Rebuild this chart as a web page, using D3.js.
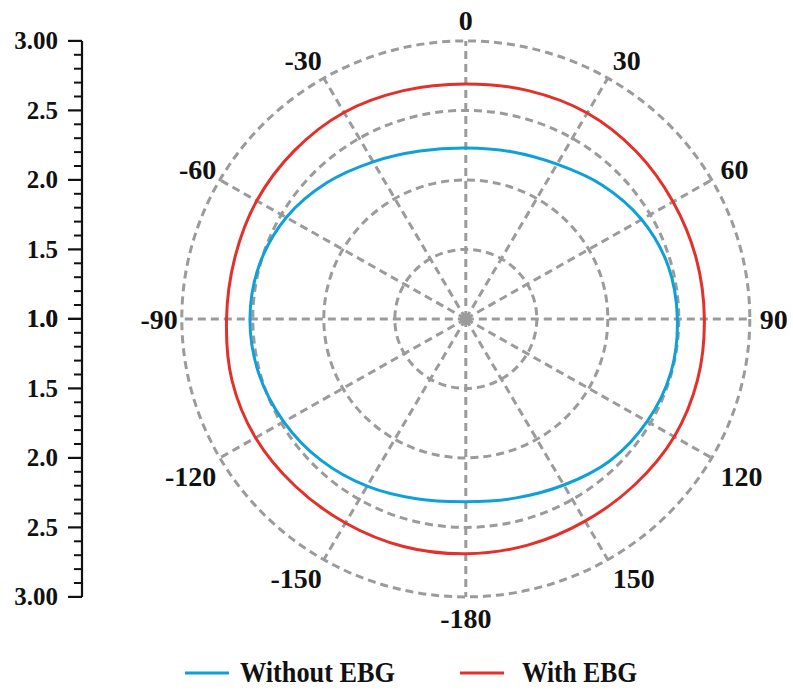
<!DOCTYPE html>
<html>
<head>
<meta charset="utf-8">
<script src="https://cdn.jsdelivr.net/npm/d3@7"></script>
<style>
  html, body { margin: 0; padding: 0; background: #ffffff; }
  svg text { font-family: "Liberation Serif", "Times New Roman", serif; font-weight: bold; fill: #111; }
</style>
</head>
<body>
<svg id="chart" width="793" height="690"></svg>
<script>
// Sample angles (degrees, clockwise from top)
const angles = [0, 15, 30, 45, 60, 75, 90, 105, 120, 135, 150, 165,
                180, 195, 210, 225, 240, 255, 270, 285, 300, 315, 330, 345];

// Radiation pattern magnitudes
const withoutEBG = [2.23, 2.245, 2.285, 2.36, 2.43, 2.475, 2.49, 2.495, 2.475, 2.44, 2.38, 2.335,
                    2.315, 2.34, 2.39, 2.44, 2.48, 2.51, 2.52, 2.505, 2.46, 2.385, 2.305, 2.25];
const withEBG    = [2.69, 2.70, 2.71, 2.70, 2.685, 2.68, 2.68, 2.69, 2.695, 2.685, 2.68, 2.685,
                    2.69, 2.695, 2.695, 2.70, 2.71, 2.705, 2.685, 2.685, 2.70, 2.71, 2.715, 2.70];

// Grid rings, spokes and their labels
const ringValues = [1.5, 2.0, 2.5, 3.0];
const spokeAngles = [0, 30, 60, 90, 120, 150, 180, 210, 240, 270, 300, 330];
const spokeLabels = ["0", "30", "60", "90", "120", "150", "-180", "-150", "-120", "-90", "-60", "-30"];

// Left magnitude axis
const axisMajor = [1.0, 1.5, 2.0, 2.5, 3.0];
const axisMajorLabels = ["1.0", "1.5", "2.0", "2.5", "3.00"];

const seriesNames = ["Without EBG", "With EBG"];
const seriesColors = ["#0ea0d8", "#e4302a"];

const svg = d3.select("#chart");
const cx = 465.8, cy = 318.9;
const R = 278;          // vertical radius of the outer ring
const KX = 284 / 278;   // horizontal stretch of the polar plot

const rScale = d3.scaleLinear().domain([1, 3]).range([0, R]);
const rad = d => d * Math.PI / 180;
const px = (a, v) => cx + rScale(v) * KX * Math.sin(rad(a));
const py = (a, v) => cy - rScale(v) * Math.cos(rad(a));

const gridColor = "#9b9b9b";

// ---- polar grid ----
const grid = svg.append("g");
grid.selectAll("ellipse.ring").data(ringValues).join("ellipse")
  .attr("class", "ring")
  .attr("cx", cx).attr("cy", cy)
  .attr("rx", d => rScale(d) * KX).attr("ry", d => rScale(d))
  .attr("fill", "none").attr("stroke", gridColor)
  .attr("stroke-width", 3).attr("stroke-dasharray", "8,5");

grid.selectAll("line.spoke").data(spokeAngles).join("line")
  .attr("class", "spoke")
  .attr("x1", cx).attr("y1", cy)
  .attr("x2", d => px(d, 3)).attr("y2", d => py(d, 3))
  .attr("stroke", gridColor).attr("stroke-width", 3).attr("stroke-dasharray", "8,5");

grid.append("circle").attr("cx", cx).attr("cy", cy).attr("r", 6).attr("fill", gridColor);

// ---- spoke labels ----
svg.append("g").selectAll("text").data(spokeAngles).join("text")
  .attr("x", a => {
    const s = Math.sin(rad(a));
    const pad = s < -0.1 ? 4 : 10;
    return cx + (R * KX + pad) * s;
  })
  .attr("y", a => {
    const c = Math.cos(rad(a)), s = Math.sin(rad(a));
    const extra = (c < -0.1 && Math.abs(s) > 0.8) ? 8 : 0;
    return cy - (R + 21) * c + extra;
  })
  .attr("dy", "0.35em")
  .attr("text-anchor", a => {
    const s = Math.sin(rad(a));
    return Math.abs(s) < 0.1 ? "middle" : (s > 0 ? "start" : "end");
  })
  .style("font-size", "28px")
  .text((a, i) => spokeLabels[i]);

// ---- pattern curves ----
const line = d3.line()
  .x(d => px(d.a, d.v))
  .y(d => py(d.a, d.v))
  .curve(d3.curveCatmullRomClosed.alpha(0.5));

[withoutEBG, withEBG].forEach((vals, i) => {
  const pts = angles.map((a, j) => ({ a, v: vals[j] }));
  svg.append("path").datum(pts)
    .attr("d", line)
    .attr("fill", "none")
    .attr("stroke", seriesColors[i])
    .attr("stroke-width", 3);
});

// ---- left magnitude axis (mirrored about 1.0) ----
const axisX = 82;
const yTop = d3.scaleLinear().domain([1, 3]).range([cy, cy - R]);
const yBot = d3.scaleLinear().domain([1, 3]).range([cy, cy + R]);
const minorVals = d3.range(11, 30).map(d => d / 10).filter(v => Math.abs(v * 2 - Math.round(v * 2)) > 1e-6);

const axisG = svg.append("g");
axisG.append("line")
  .attr("x1", axisX).attr("x2", axisX)
  .attr("y1", yTop(3)).attr("y2", yBot(3))
  .attr("stroke", "#111").attr("stroke-width", 2.2);

[yTop, yBot].forEach(sc => {
  axisG.selectAll(null).data(minorVals).join("line")
    .attr("x1", axisX - 8).attr("x2", axisX)
    .attr("y1", d => sc(d)).attr("y2", d => sc(d))
    .attr("stroke", "#111").attr("stroke-width", 2);
  axisG.selectAll(null).data(axisMajor).join("line")
    .attr("x1", axisX - 14).attr("x2", axisX)
    .attr("y1", d => sc(d)).attr("y2", d => sc(d))
    .attr("stroke", "#111").attr("stroke-width", 2.2);
  axisG.selectAll(null).data(axisMajor).join("text")
    .attr("x", 58).attr("y", d => sc(d))
    .attr("dy", "0.34em")
    .attr("text-anchor", "end")
    .style("font-size", "25px")
    .text((d, i) => axisMajorLabels[i]);
});

// ---- legend ----
const legend = svg.append("g");
const legendItems = [
  { x: 185, tx: 240, w: 155 },
  { x: 460, tx: 522, w: 115 }
];
legendItems.forEach((it, i) => {
  legend.append("line")
    .attr("x1", it.x).attr("x2", it.x + 44)
    .attr("y1", 673).attr("y2", 673)
    .attr("stroke", seriesColors[i]).attr("stroke-width", 3);
  legend.append("text")
    .attr("x", it.tx).attr("y", 682)
    .attr("textLength", it.w).attr("lengthAdjust", "spacingAndGlyphs")
    .style("font-size", "30px")
    .text(seriesNames[i]);
});
</script>
</body>
</html>
